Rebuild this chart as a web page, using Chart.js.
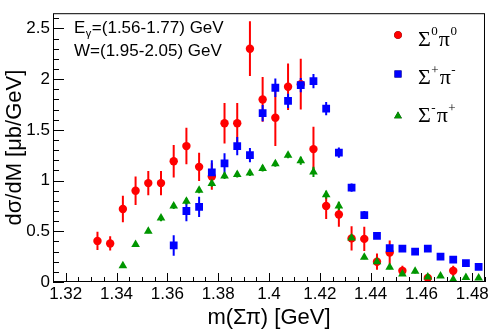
<!DOCTYPE html>
<html>
<head>
<meta charset="utf-8">
<script src="https://cdn.jsdelivr.net/npm/chart.js@4.4.1/dist/chart.umd.min.js"></script>
<style>
  body { margin: 0; background: #fff; }
  canvas { display: block; }
</style>
</head>
<body>
<canvas id="myChart" width="491" height="332"></canvas>
<script>
// Sigma0 pi0
const mNeutral = [1.3325, 1.3375, 1.3425, 1.3475, 1.3525, 1.3575, 1.3625, 1.3675, 1.3725, 1.3775,
                  1.3825, 1.3875, 1.3925, 1.3975, 1.4025, 1.4075, 1.4125, 1.4175, 1.4225, 1.4275,
                  1.4325, 1.4375, 1.4425, 1.4475, 1.4525, 1.4625, 1.4725];
const xsNeutral = [0.405, 0.38, 0.72, 0.90, 0.975, 0.975, 1.19, 1.34, 1.135, 1.04,
                   1.565, 1.565, 2.30, 1.80, 1.62, 1.925, 1.95, 1.31, 0.75, 0.665,
                   0.43, 0.425, 0.20, 0.29, 0.11, 0.04, 0.11];
const errNeutral = [0.09, 0.07, 0.13, 0.14, 0.12, 0.12, 0.16, 0.18, 0.14, 0.13,
                    0.20, 0.20, 0.27, 0.22, 0.28, 0.23, 0.25, 0.22, 0.13, 0.12,
                    0.12, 0.12, 0.08, 0.12, 0.05, 0.03, 0.05];

// Sigma+ pi-
const mPlus = [1.3625, 1.3675, 1.3725, 1.3775, 1.3825, 1.3875, 1.3925, 1.3975, 1.4025, 1.4075,
               1.4125, 1.4175, 1.4225, 1.4275, 1.4325, 1.4375, 1.4425, 1.4475, 1.4525, 1.4575,
               1.4625, 1.4675, 1.4725, 1.4775, 1.4825];
const xsPlus = [0.36, 0.70, 0.74, 1.08, 1.17, 1.34, 1.25, 1.665, 1.915, 1.785,
                1.94, 1.98, 1.71, 1.275, 0.93, 0.66, 0.455, 0.335, 0.33, 0.30,
                0.33, 0.25, 0.22, 0.185, 0.15];
const errPlus = [0.10, 0.10, 0.10, 0.12, 0.10, 0.09, 0.07, 0.08, 0.09, 0.07,
                 0.07, 0.07, 0.065, 0.05, 0.04, 0.04, 0.03, 0.03, 0.03, 0.03,
                 0.03, 0.03, 0.03, 0.02, 0.02];

// Sigma- pi+
const mMinus = [1.3425, 1.3475, 1.3525, 1.3575, 1.3625, 1.3675, 1.3725, 1.3775, 1.3825, 1.3875,
                1.3925, 1.3975, 1.4025, 1.4075, 1.4125, 1.4175, 1.4225, 1.4275, 1.4325, 1.4375,
                1.4425, 1.4475, 1.4525, 1.4575, 1.4625, 1.4675, 1.4725, 1.4775, 1.4825];
const xsMinus = [0.16, 0.37, 0.50, 0.63, 0.75, 0.795, 0.905, 0.97, 1.045, 1.06,
                 1.075, 1.12, 1.165, 1.25, 1.195, 1.085, 0.86, 0.75, 0.435, 0.245,
                 0.20, 0.145, 0.08, 0.105, 0.05, 0.06, 0.025, 0.045, 0.04];
const errMinus = [0.02, 0.02, 0.02, 0.03, 0.03, 0.03, 0.03, 0.03, 0.03, 0.03,
                  0.03, 0.03, 0.03, 0.03, 0.04, 0.05, 0.04, 0.04, 0.03, 0.02,
                  0.02, 0.02, 0.02, 0.02, 0.02, 0.02, 0.01, 0.01, 0.01];

// labelled ticks
const xTicks = [1.32, 1.34, 1.36, 1.38, 1.40, 1.42, 1.44, 1.46, 1.48];
const yTicks = [0, 0.5, 1, 1.5, 2, 2.5];

const legendNames = [
    [["Σ", "0"], ["π", "0"]],
    [["Σ", "+"], ["π", "-"]],
    [["Σ", "-"], ["π", "+"]],
];
const infoLines = [["E", "γ", "=(1.56-1.77) GeV"], ["W", "", "=(1.95-2.05) GeV"]];

const SANS = "'Liberation Sans', Arial, sans-serif";
const SERIF = "'Liberation Serif', 'Times New Roman', serif";

const toPoints = (xs, ys) => xs.map((v, i) => ({ x: v, y: ys[i] }));

// vertical error bars, drawn under the markers
const errorBars = {
    id: "errorBars",
    beforeDatasetsDraw(chart) {
        const { ctx, chartArea: a } = chart;
        const ys = chart.scales.y;
        ctx.save();
        ctx.beginPath();
        ctx.rect(a.left, a.top, a.width, a.height);
        ctx.clip();
        ctx.lineWidth = 2;
        chart.data.datasets.forEach((ds, i) => {
            const meta = chart.getDatasetMeta(i);
            ctx.strokeStyle = ds.backgroundColor;
            meta.data.forEach((pt, j) => {
                const v = ds.data[j].y, e = ds.errors[j];
                ctx.beginPath();
                ctx.moveTo(pt.x, ys.getPixelForValue(v - e));
                ctx.lineTo(pt.x, ys.getPixelForValue(v + e));
                ctx.stroke();
            });
        });
        ctx.restore();
    },
};

// ROOT style frame, inner ticks, text box and legend
const frame = {
    id: "frame",
    afterDraw(chart) {
        const { ctx, chartArea: a } = chart;
        const xs = chart.scales.x, ys = chart.scales.y;
        ctx.save();
        ctx.strokeStyle = "#000";
        ctx.lineWidth = 1;
        ctx.strokeRect(a.left + 0.5, a.top + 0.5, a.width - 1, a.height - 1);

        ctx.beginPath();
        for (let k = 264; k <= 297; k++) {
            const px = Math.round(xs.getPixelForValue(k * 0.005)) + 0.5;
            const len = k % 4 === 0 ? 9 : 5;
            ctx.moveTo(px, a.bottom);
            ctx.lineTo(px, a.bottom - len);
        }
        for (let k = 0; k <= 26; k++) {
            const py = Math.round(ys.getPixelForValue(k * 0.1)) + 0.5;
            const len = k % 5 === 0 ? 11 : 6;
            ctx.moveTo(a.left, py);
            ctx.lineTo(a.left + len, py);
        }
        ctx.stroke();

        // info text
        ctx.fillStyle = "#000";
        ctx.textBaseline = "alphabetic";
        ctx.textAlign = "left";
        infoLines.forEach((ln, i) => {
            const base = 32.5 + i * 23.5;
            let px = 74;
            ctx.font = "17px " + SANS;
            ctx.fillText(ln[0], px, base);
            px += ctx.measureText(ln[0]).width;
            if (ln[1]) {
                ctx.font = "11px " + SANS;
                ctx.fillText(ln[1], px + 0.5, base + 4);
                px += ctx.measureText(ln[1]).width + 1;
            }
            ctx.font = "17px " + SANS;
            ctx.fillText(ln[2], px, base);
        });

        // legend
        const markY = [35, 74, 116];
        const baseY = [45.5, 84, 122];
        chart.data.datasets.forEach((ds, i) => {
            Chart.helpers.drawPoint(ctx, {
                pointStyle: ds.pointStyle,
                radius: ds.pointRadius * 0.9,
                borderWidth: 0,
                rotation: 0,
            }, 398, markY[i]);
            ctx.fillStyle = ds.backgroundColor;
            ctx.fill();
            ctx.fillStyle = "#000";
            let px = 418;
            legendNames[i].forEach(([main, sup]) => {
                ctx.font = "22px " + SERIF;
                ctx.fillText(main, px, baseY[i]);
                px += ctx.measureText(main).width + 0.5;
                ctx.font = "13px " + SERIF;
                ctx.fillText(sup, px, baseY[i] - 10.5);
                px += ctx.measureText(sup).width + 1;
            });
        });
        ctx.restore();
    },
};

const whiteBg = {
    id: "whiteBg",
    beforeDraw(chart) {
        const ctx = chart.ctx;
        ctx.save();
        ctx.fillStyle = "#fff";
        ctx.fillRect(0, 0, chart.width, chart.height);
        ctx.restore();
    },
};

const data = {
    datasets: [
        {
            label: "Σ0π0",
            data: toPoints(mNeutral, xsNeutral),
            errors: errNeutral,
            backgroundColor: "rgb(255,0,0)",
            pointStyle: "circle",
            pointRadius: 4.2,
            pointBorderWidth: 0,
            order: 3,
        },
        {
            label: "Σ+π-",
            data: toPoints(mPlus, xsPlus),
            errors: errPlus,
            backgroundColor: "rgb(0,0,255)",
            pointStyle: "rect",
            pointRadius: 5.5,
            pointBorderWidth: 0,
            order: 2,
        },
        {
            label: "Σ-π+",
            data: toPoints(mMinus, xsMinus),
            errors: errMinus,
            backgroundColor: "rgb(0,150,0)",
            pointStyle: "triangle",
            pointRadius: 5,
            pointBorderWidth: 0,
            order: 1,
        },
    ],
};

const fmt = (v) => String(Number(v.toFixed(2)));

const config = {
    type: "scatter",
    data: data,
    plugins: [whiteBg, errorBars, frame],
    options: {
        responsive: false,
        animation: false,
        layout: { padding: { top: 3, right: 6, left: 0, bottom: 0 } },
        plugins: { legend: { display: false }, tooltip: { enabled: false } },
        scales: {
            x: {
                type: "linear",
                min: 1.315,
                max: 1.485,
                grid: { display: false, drawTicks: false },
                border: { display: false },
                afterBuildTicks: (s) => { s.ticks = xTicks.map((v) => ({ value: v })); },
                ticks: {
                    autoSkip: false,
                    maxRotation: 0,
                    padding: 2,
                    color: "#000",
                    font: { family: SANS, size: 17 },
                    callback: (v) => fmt(v),
                },
                title: {
                    display: true,
                    text: "m(Σπ) [GeV]",
                    color: "#000",
                    font: { family: SANS, size: 22 },
                    padding: { top: 0, bottom: 1 },
                },
                afterFit: (s) => { s.height = 50; },
            },
            y: {
                min: 0,
                max: 2.65,
                grid: { display: false, drawTicks: false },
                border: { display: false },
                afterBuildTicks: (s) => { s.ticks = yTicks.map((v) => ({ value: v })); },
                ticks: {
                    autoSkip: false,
                    padding: 3,
                    color: "#000",
                    font: { family: SANS, size: 17 },
                    callback: (v) => fmt(v),
                },
                title: {
                    display: true,
                    text: "dσ/dM [μb/GeV]",
                    color: "#000",
                    font: { family: SANS, size: 22 },
                    padding: { top: 2, bottom: 0 },
                },
                afterFit: (s) => { s.width = 53; },
            },
        },
    },
};

const myChart = new Chart(document.getElementById("myChart"), config);
</script>
</body>
</html>
